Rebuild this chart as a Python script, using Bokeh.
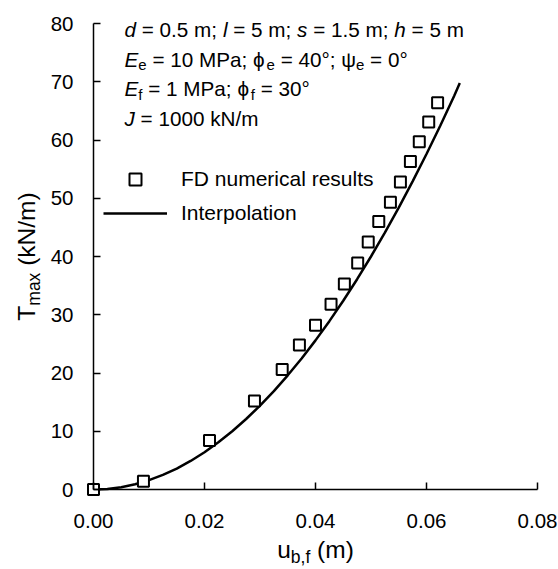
from math import pi
from bokeh.plotting import figure
from bokeh.models import Range1d, FixedTicker, Label, Legend, LegendItem
from bokeh.embed import file_html
from bokeh.resources import INLINE

# ---- data ----
fd_u = [0.000, 0.009, 0.0209, 0.0290, 0.0340, 0.0371, 0.0400, 0.0428, 0.0452,
        0.0476, 0.0495, 0.0514, 0.0535, 0.0553, 0.0571, 0.0587, 0.0604, 0.0620]
fd_T = [0.0, 1.4, 8.4, 15.2, 20.6, 24.8, 28.2, 31.8, 35.3,
        38.9, 42.5, 46.0, 49.3, 52.8, 56.3, 59.7, 63.1, 66.4]

interp_u = [0.0000, 0.0025, 0.0050, 0.0075, 0.0100, 0.0125, 0.0150, 0.0175, 0.0200,
            0.0225, 0.0250, 0.0275, 0.0300, 0.0325, 0.0350, 0.0375, 0.0400, 0.0425,
            0.0450, 0.0475, 0.0500, 0.0525, 0.0550, 0.0575, 0.0600, 0.0625, 0.0650, 0.0660]
interp_T = [0.0, 0.1, 0.4, 0.9, 1.6, 2.5, 3.6, 4.9, 6.4,
            8.1, 10.0, 12.1, 14.4, 16.9, 19.6, 22.5, 25.6, 28.9,
            32.4, 36.1, 40.0, 44.1, 48.4, 52.9, 57.6, 62.5, 67.6, 69.8]

x_ticks = [0.00, 0.02, 0.04, 0.06, 0.08]
x_tick_labels = ["0.00", "0.02", "0.04", "0.06", "0.08"]
y_ticks = [0, 10, 20, 30, 40, 50, 60, 70, 80]
y_tick_labels = ["0", "10", "20", "30", "40", "50", "60", "70", "80"]

FONT = "Liberation Sans"
FS, SUB = 20.7, 15          # annotation block
AXL_FS, AXL_SUB = 24.5, 17.5  # axis titles
TICK_FS = 20.5
LEG_FS = 21

# ---- layout: where the axes box sits in the picture (pixels) ----
W_PX, H_PX = 558, 569
AX_L, AX_R, AX_T, AX_B = 93, 537, 23, 489
X0, X1, Y0, Y1 = 0.0, 0.08, 0.0, 80.0
sx = (X1 - X0) / (AX_R - AX_L)
sy = (Y1 - Y0) / (AX_B - AX_T)

p = figure(width=W_PX, height=H_PX,
           x_range=Range1d(X0 - AX_L * sx, X1 + (W_PX - AX_R) * sx),
           y_range=Range1d(Y0 - (H_PX - AX_B) * sy, Y1 + AX_T * sy),
           output_backend="svg", toolbar_location=None, min_border=0)
p.outline_line_color = None
p.xgrid.visible = False
p.ygrid.visible = False
p.background_fill_color = "white"
p.border_fill_color = "white"

for ax, ticks, labels, bounds in ((p.xaxis[0], x_ticks, x_tick_labels, (X0, X1)),
                                  (p.yaxis[0], y_ticks, y_tick_labels, (Y0, Y1))):
    ax.ticker = FixedTicker(ticks=ticks)
    ax.major_label_overrides = {t: l for t, l in zip(ticks, labels)}
    ax.bounds = bounds
    ax.fixed_location = 0
    ax.axis_line_color = "black"
    ax.axis_line_width = 1.5
    ax.major_tick_line_color = "black"
    ax.major_tick_line_width = 1.5
    ax.major_tick_in = 7
    ax.major_tick_out = 0
    ax.minor_tick_in = 0
    ax.minor_tick_out = 0
    ax.major_label_text_font = FONT
    ax.major_label_text_font_size = f"{TICK_FS}px"
    ax.major_label_text_color = "black"
p.xaxis[0].major_label_standoff = 24
p.yaxis[0].major_label_standoff = 20

ln = p.line(interp_u, interp_T, line_color="black", line_width=2.5)
sc = p.scatter(fd_u, fd_T, marker="square", size=11, line_color="black", line_width=2,
               fill_color="white")

legend = Legend(items=[LegendItem(label="FD numerical results", renderers=[sc]),
                       LegendItem(label="Interpolation", renderers=[ln])],
                location=(103, H_PX - 228), glyph_width=64, glyph_height=30, label_height=30,
                label_standoff=14, spacing=4, padding=0, margin=0,
                border_line_color=None, background_fill_alpha=0,
                label_text_font=FONT, label_text_font_size=f"{LEG_FS}px",
                label_text_color="black")
p.add_layout(legend)

# ---- rich text helpers (picture pixel -> data) ----
CW = {' ': 278, '\u00a0': 278, '=': 584, '.': 278, ';': 278, ',': 278, '(': 333, ')': 333,
      '/': 278, '°': 400, 'd': 556, 'l': 222, 's': 500, 'h': 556, 'm': 833, 'E': 667,
      'M': 833, 'P': 667, 'a': 556, 'e': 556, 'f': 278, 'J': 500, 'k': 500, 'N': 722,
      'T': 611, 'x': 500, 'u': 556, 'b': 556, 'ϕ': 650, 'ψ': 710}


def X(px):
    return X0 + (px - AX_L) * sx


def Y(py):
    return Y0 + (AX_B - py) * sy


def width(text, fs):
    return sum(CW.get(c, 556) for c in text) / 1000 * fs


def pieces_h(pieces, x0, yc, fs_main=FS, fs_sub=SUB, shift=6):
    pos = x0
    for text, kind in pieces:
        fs = fs_sub if kind == "sub" else fs_main
        dy = shift if kind == "sub" else 0
        t = text.replace(" ", "\u00a0")
        p.add_layout(Label(x=X(pos), y=Y(yc + dy), text=t, text_font=FONT,
                           text_font_size=f"{fs}px",
                           text_font_style="italic" if kind == "it" else "normal",
                           text_align="left", text_baseline="middle", text_color="black"))
        pos += width(text, fs)


def pieces_v(pieces, xc, yc, fs_main, fs_sub, shift):
    total = sum(width(t, fs_sub if k == "sub" else fs_main) for t, k in pieces)
    pos = yc + total / 2
    for text, kind in pieces:
        fs = fs_sub if kind == "sub" else fs_main
        dx = shift if kind == "sub" else 0
        t = text.replace(" ", "\u00a0")
        p.add_layout(Label(x=X(xc + dx), y=Y(pos), text=t, text_font=FONT,
                           text_font_size=f"{fs}px", angle=pi / 2,
                           text_align="left", text_baseline="middle", text_color="black"))
        pos -= width(text, fs)


info_lines = [
    [("d", "it"), (" = 0.5 m; ", "n"), ("l", "it"), (" = 5 m; ", "n"), ("s", "it"),
     (" = 1.5 m; ", "n"), ("h", "it"), (" = 5 m", "n")],
    [("E", "it"), ("e", "sub"), (" = 10 MPa; ", "n"), ("ϕ", "n"), ("e", "sub"),
     (" = 40°; ", "n"), ("ψ", "n"), ("e", "sub"), (" = 0°", "n")],
    [("E", "it"), ("f", "sub"), (" = 1 MPa; ", "n"), ("ϕ", "n"), ("f", "sub"), (" = 30°", "n")],
    [("J", "it"), (" = 1000 kN/m", "n")],
]
for i, pcs in enumerate(info_lines):
    pieces_h(pcs, 124, 29 + 29.5 * i)

xlab = [("u", "n"), ("b,f", "sub"), (" (m)", "n")]
xw = sum(width(t, AXL_SUB if k == "sub" else AXL_FS) for t, k in xlab)
pieces_h(xlab, 315 - xw / 2, 549, AXL_FS, AXL_SUB, 7)
pieces_v([("T", "n"), ("max", "sub"), (" (kN/m)", "n")], 26, 256, AXL_FS, AXL_SUB, 7)

open("out.html", "w").write(file_html(p, INLINE))
